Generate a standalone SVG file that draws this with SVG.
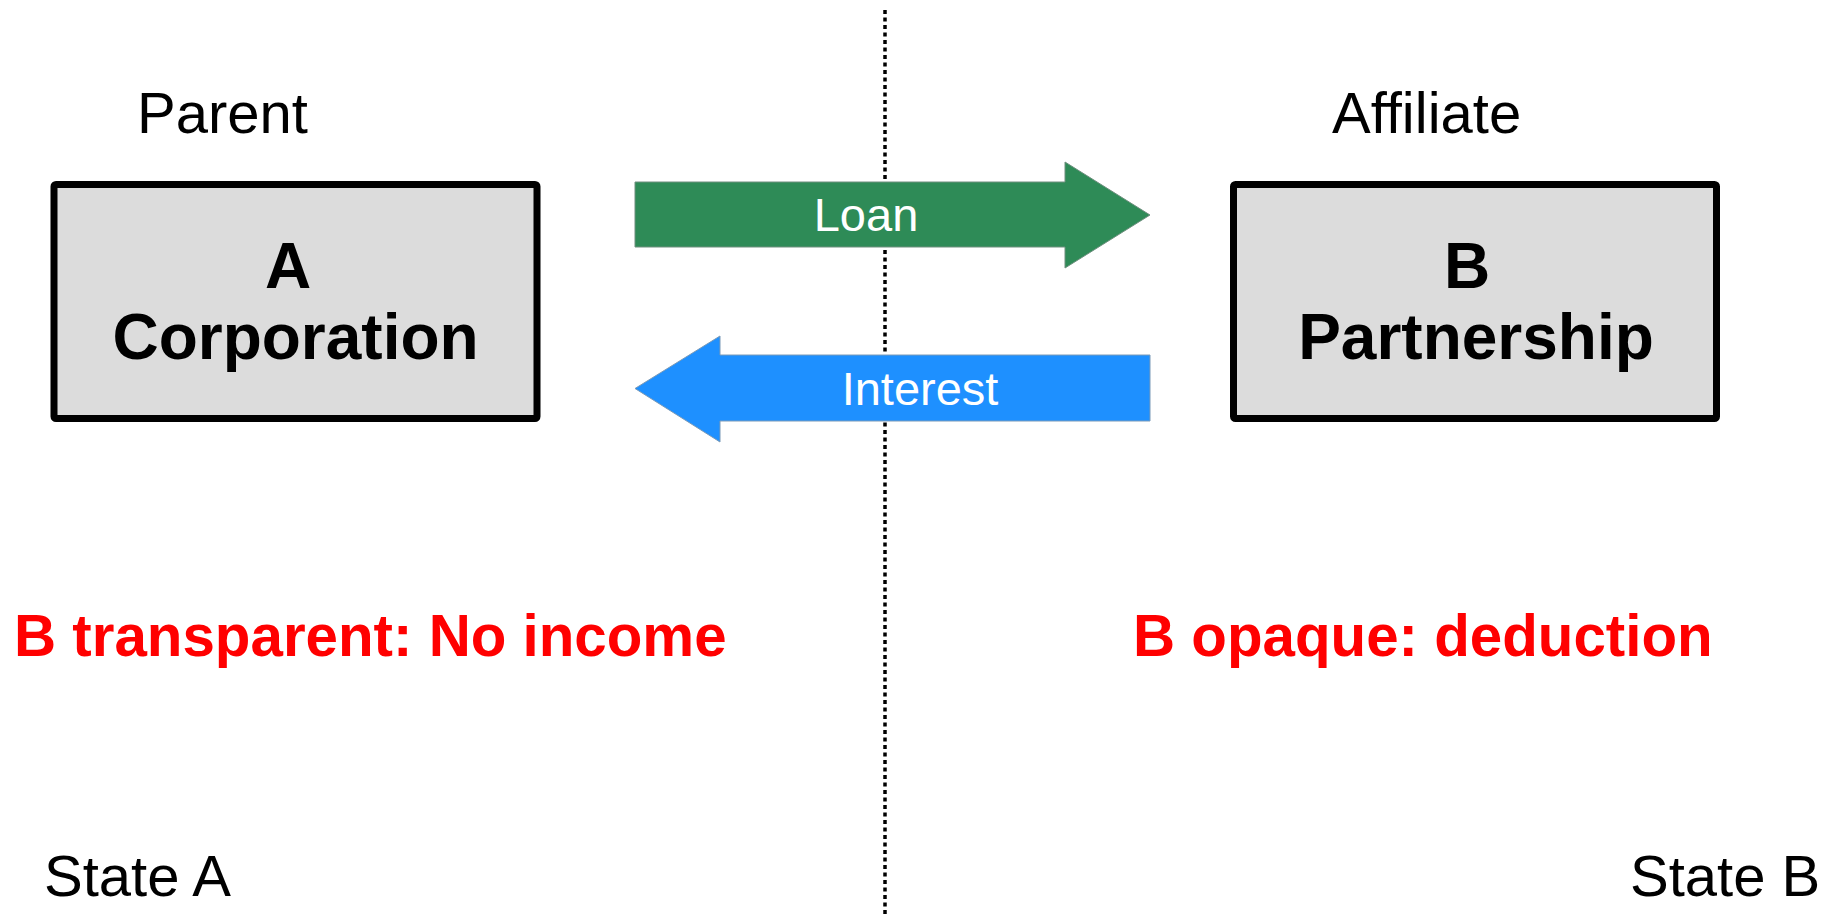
<svg xmlns="http://www.w3.org/2000/svg" width="1832" height="915" viewBox="0 0 1832 915">
<style>
.lbl{font-family:"Liberation Sans",Arial,sans-serif;font-size:58px;fill:#000}
.box{fill:#dcdcdc;stroke:#000;stroke-width:7}
.bt{font-family:"Liberation Sans",Arial,sans-serif;font-size:64px;font-weight:bold;fill:#000;text-anchor:middle}
.at{font-family:"Liberation Sans",Arial,sans-serif;font-size:47px;fill:#fff;text-anchor:middle}
.red{font-family:"Liberation Sans",Arial,sans-serif;font-size:58.3px;font-weight:bold;fill:#ff0000}
</style>
<rect width="1832" height="915" fill="#fff"/>
<line id="border" x1="885" y1="10" x2="885" y2="915" stroke="#000" stroke-width="3.5" stroke-dasharray="4 3.5"/>
<g id="connectors">
  <g id="loan">
    <polygon points="635,182 1065,182 1065,162 1150,215 1065,268 1065,247 635,247" fill="#2e8b57" stroke="#6e8f7e" stroke-width="1"/>
    <text class="at" x="866" y="231">Loan</text>
  </g>
  <g id="interest">
    <polygon points="1150,355 720,355 720,336 635,388.5 720,442 720,421 1150,421" fill="#1e90ff" stroke="#7a9ab8" stroke-width="1"/>
    <text class="at" x="920" y="405">Interest</text>
  </g>
</g>
<g id="nodeA">
  <text class="lbl" x="137" y="133">Parent</text>
  <rect class="box" x="54" y="184.5" width="483" height="234" rx="2"/>
  <text class="bt" x="288" y="288">A</text>
  <text class="bt" x="295.5" y="359">Corporation</text>
</g>
<g id="nodeB">
  <text class="lbl" x="1332" y="133">Affiliate</text>
  <rect class="box" x="1233.5" y="184.5" width="483" height="234" rx="2"/>
  <text class="bt" x="1467" y="288">B</text>
  <text class="bt" x="1476" y="359">Partnership</text>
</g>
<text class="red" x="14" y="656">B transparent: No income</text>
<text class="red" x="1133" y="656">B opaque: deduction</text>
<text class="lbl" x="44" y="896">State A</text>
<text class="lbl" x="1630" y="896">State B</text>
</svg>
